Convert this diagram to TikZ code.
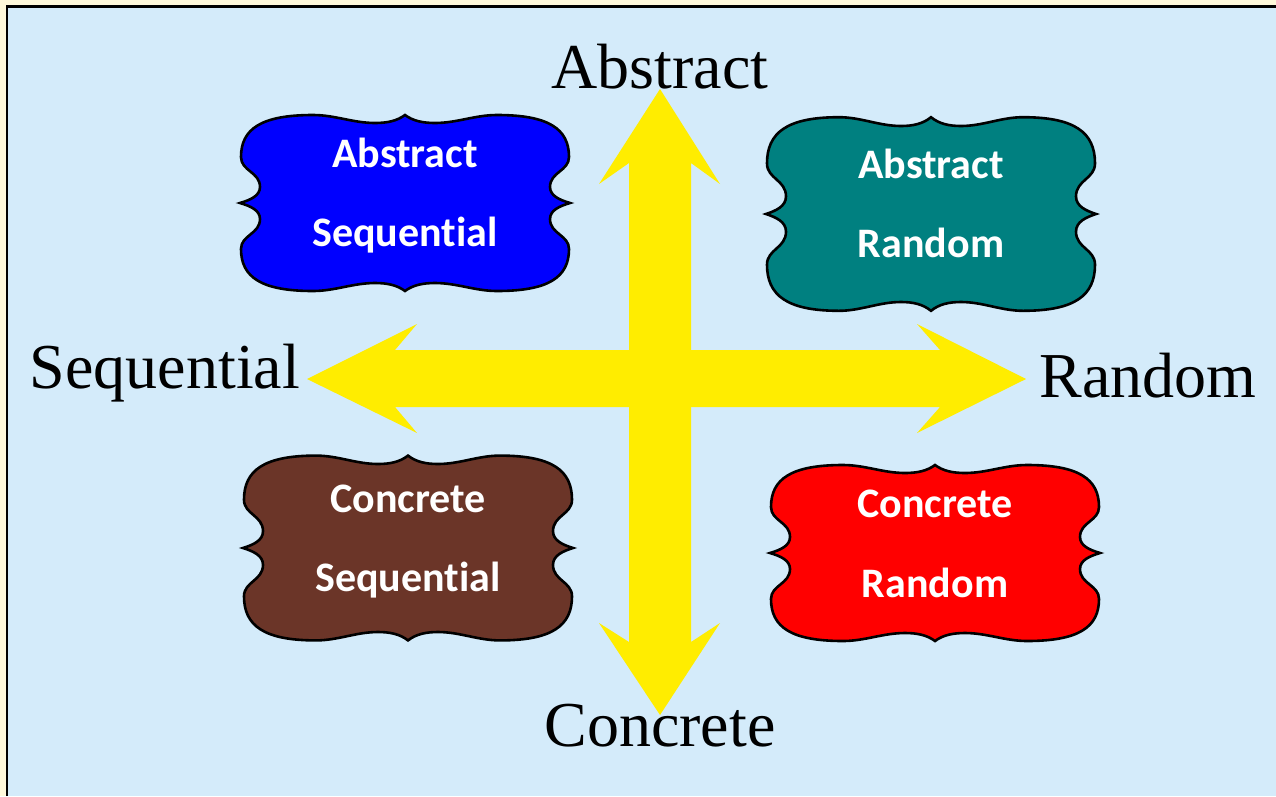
\documentclass[tikz,border=0pt]{standalone}
\usepackage{fontspec}
\setmainfont{Liberation Serif}
\newfontfamily\boxfont[Ligatures={NoCommon,NoDiscretionary}]{Carlito}
\definecolor{paper}{HTML}{FFF9DB}
\definecolor{panel}{HTML}{D4EBFA}
\definecolor{arrowyellow}{HTML}{FFED00}
\definecolor{teal2}{HTML}{008080}
\definecolor{brown2}{HTML}{6B3528}
\tikzset{
  axislabel/.style={anchor=base, inner sep=0pt, font=\fontsize{64}{64}\selectfont},
  boxlabel/.style={anchor=base, inner sep=0pt, text=white, font=\boxfont\bfseries\fontsize{42}{42}\selectfont},
  plaque/.pic={
    \path[draw=black, line width=2.6pt, line join=miter, pic actions]
      (0,-88)
      .. controls (-8,-82) and (-18,-80) .. (-30,-80)
      .. controls (-52,-80) and (-70,-88) .. (-92,-88)
      .. controls (-144,-88) and (-164,-74) .. (-164,-46)
      .. controls (-164,-32) and (-145,-31) .. (-145,-16)
      .. controls (-145,-7) and (-155,-3) .. (-165,0)
      .. controls (-155,3) and (-145,7) .. (-145,16)
      .. controls (-145,31) and (-164,32) .. (-164,46)
      .. controls (-164,74) and (-144,88) .. (-92,88)
      .. controls (-70,88) and (-52,80) .. (-30,80)
      .. controls (-18,80) and (-8,82) .. (0,88)
      .. controls (8,82) and (18,80) .. (30,80)
      .. controls (52,80) and (70,88) .. (92,88)
      .. controls (144,88) and (164,74) .. (164,46)
      .. controls (164,32) and (145,31) .. (145,16)
      .. controls (145,7) and (155,3) .. (165,0)
      .. controls (155,-3) and (145,-7) .. (145,-16)
      .. controls (145,-31) and (164,-32) .. (164,-46)
      .. controls (164,-74) and (144,-88) .. (92,-88)
      .. controls (70,-88) and (52,-80) .. (30,-80)
      .. controls (18,-80) and (8,-82) .. (0,-88) -- cycle;
  }
}
\begin{document}
\begin{tikzpicture}[x=1pt, y=-1pt]
  \useasboundingbox (0,0) rectangle (1276,796);
  % page and panel
  \fill[paper] (0,0) rectangle (1276,796);
  \fill[panel] (7,6.5) rectangle (1276,796);
  \draw[black, line width=2.5pt] (7,796) -- (7,6.5) -- (1276,6.5);

  % double-headed axes
  \coordinate (west) at (307,379);
  \coordinate (east) at (1026,379);
  \coordinate (north) at (660,89);
  \coordinate (south) at (660,715);
  \fill[arrowyellow] (west) -- (417,324) -- (395,350) -- (940,350) -- (917,324)
    -- (east) -- (917,433) -- (940,407) -- (395,407) -- (417,433) -- cycle;
  \fill[arrowyellow] (north) -- (720,184) -- (691,163) -- (691,642) -- (720,623)
    -- (south) -- (599,623) -- (629,642) -- (629,163) -- (599,184) -- cycle;

  % axis labels
  \node[axislabel] (abstract) at (660,88) {Abstract};
  \node[axislabel] (concrete) at (660,746) {Concrete};
  \node[axislabel] (sequential) at (165,388) {Sequential};
  \node[axislabel] (random) at (1148,397) {Random};

  % quadrant plaques
  \pic[fill=blue] at (405,203) {plaque};
  \pic[fill=teal2, yscale=1.1] at (931,214) {plaque};
  \pic[fill=brown2, yscale=1.05] at (408,548) {plaque};
  \pic[fill=red] at (935,553) {plaque};

  \node[boxlabel] (as1) at (405,167) {Abstract};
  \node[boxlabel] (as2) at (405,246) {Sequential};
  \node[boxlabel] (ar1) at (931,178) {Abstract};
  \node[boxlabel] (ar2) at (931,257) {Random};
  \node[boxlabel] (cs1) at (408,512) {Concrete};
  \node[boxlabel] (cs2) at (408,591) {Sequential};
  \node[boxlabel] (cr1) at (935,517) {Concrete};
  \node[boxlabel] (cr2) at (935,597) {Random};
\end{tikzpicture}
\end{document}
